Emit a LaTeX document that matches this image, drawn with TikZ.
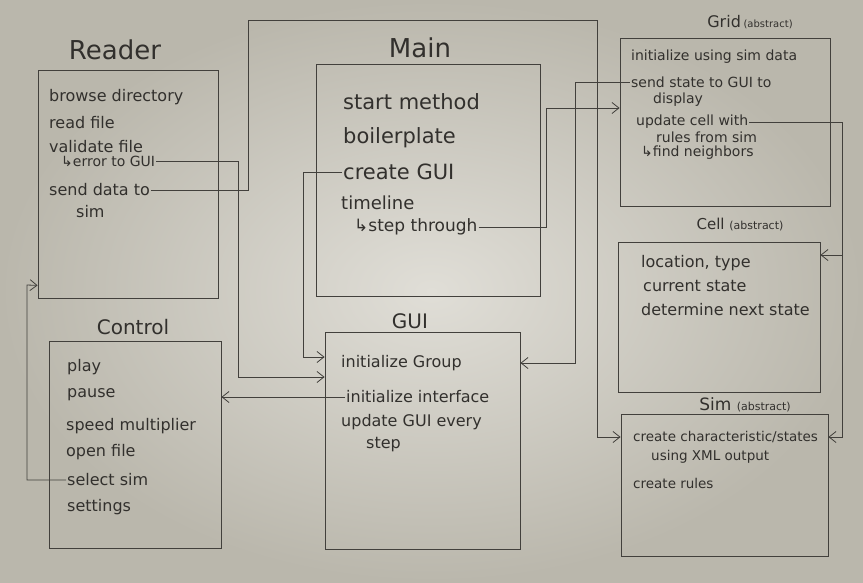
\documentclass[tikz,border=0pt]{standalone}
\usepackage{fontspec}
\setmainfont{DejaVu Sans}
\usepackage{tikz}
\usetikzlibrary{arrows.meta,calc}

\definecolor{ink}{RGB}{50,48,45}
\definecolor{pencil}{RGB}{66,64,60}
\definecolor{boardmid}{RGB}{224,222,215}
\definecolor{boardedge}{RGB}{186,183,172}

\begin{document}
\begin{tikzpicture}[x=1pt, y=-1pt, every node/.style={inner sep=1pt, text=ink}]
    \tikzset{
        blk/.style={draw=pencil, line width=0.8pt, inner sep=0pt},
        ttl/.style={font=\fontsize{#1}{#1}\selectfont},
        ln/.style={anchor=west, font=\fontsize{#1}{#1}\selectfont},
        link/.style={draw=pencil, line width=0.8pt, -{Straight Barb[length=7pt, width=11pt]}}
    }
    \shade[inner color=boardmid, outer color=boardedge] (0,0) rectangle (863,582);

    % boxes
    \node[blk, minimum width=180pt, minimum height=228pt] (reader) at (128,184) {};
    \node[blk, minimum width=224pt, minimum height=232pt] (main) at (428,180) {};
    \node[blk, minimum width=210pt, minimum height=168pt] (grid) at (725,122) {};
    \node[blk, minimum width=202pt, minimum height=150pt] (cell) at (719,317) {};
    \node[blk, minimum width=207pt, minimum height=142pt] (sim) at (724.5,485) {};
    \node[blk, minimum width=172pt, minimum height=207pt] (control) at (135,444.5) {};
    \node[blk, minimum width=195pt, minimum height=217pt] (gui) at (422.5,440.5) {};

    % titles
    \node[ttl=26] (readerT) at (115,50) {Reader};
    \node[ttl=26] (mainT) at (420,48) {Main};
    \node[ttl=16] (gridT) at (750,22) {Grid\,{\fontsize{10}{10}\selectfont(abstract)}};
    \node[ttl=15] (cellT) at (740,225) {Cell {\fontsize{11}{11}\selectfont(abstract)}};
    \node[ttl=17] (simT) at (745,405) {Sim {\fontsize{11}{11}\selectfont(abstract)}};
    \node[ttl=20] (controlT) at (133,327) {Control};
    \node[ttl=20] (guiT) at (410,321) {GUI};

    % Reader
    \node[ln=16] (rbrowse) at (48,97) {browse directory};
    \node[ln=16] (rread) at (48,123) {read file};
    \node[ln=16] (rvalid) at (48,147) {validate file};
    \node[ln=14] (rerr) at (60,161) {↳error to GUI};
    \node[ln=16] (rsend) at (48,190) {send data to};
    \node[ln=16] (rsim) at (75,212) {sim};

    % Main
    \node[ln=21] (mstart) at (342,102) {start method};
    \node[ln=21] (mboil) at (342,138) {boilerplate};
    \node[ln=21] (mgui) at (342,172) {create GUI};
    \node[ln=18] (mtime) at (340,203) {timeline};
    \node[ln=17] (mstep) at (353,227) {↳step through};

    % Grid
    \node[ln=14] (ginit) at (630,57) {initialize using sim data};
    \node[ln=14] (gsend) at (630,82) {send state to GUI to};
    \node[ln=14] (gdisp) at (652,100) {display};
    \node[ln=14] (gupd) at (635,122) {update cell with};
    \node[ln=14] (grules) at (655,137) {rules from sim};
    \node[ln=14] (gfind) at (640,153) {↳find neighbors};

    % Cell
    \node[ln=16] (cloc) at (640,263) {location, type};
    \node[ln=16] (ccur) at (642,286) {current state};
    \node[ln=16] (cnext) at (640,310) {determine next state};

    % Sim
    \node[ln=13.5] (sim1) at (632,437) {create characteristic/states};
    \node[ln=13.5] (sim2) at (650,457) {using XML output};
    \node[ln=13.5] (sim3) at (632,483) {create rules};

    % Control
    \node[ln=16] (cplay) at (66,367) {play};
    \node[ln=16] (cpause) at (66,395) {pause};
    \node[ln=16] (cspeed) at (65,426) {speed multiplier};
    \node[ln=16] (copen) at (65,452) {open file};
    \node[ln=16] (csel) at (66,480) {select sim};
    \node[ln=16] (cset) at (66,507) {settings};

    % GUI
    \node[ln=16] (ggroup) at (340,363) {initialize Group};
    \node[ln=16] (ginter) at (345,397) {initialize interface};
    \node[ln=16] (gupdate) at (340,422) {update GUI every};
    \node[ln=16] (gstep) at (365,445) {step};

    % connectors
    \draw[link] (rsend.east) -| (248,20) -- (597,20) |- (sim.west |- sim1);
    \draw[link] (rerr.east) -| (238,377) -- ($(gui.west |- ggroup)+(0,14)$);
    \draw[link] (mgui.west) -| (303,357) -- ($(gui.west |- ggroup)+(0,-6)$);
    \draw[link] (mstep.east) -| (546,108) -- ($(grid.west |- gdisp)+(0,8)$);
    \draw[link] (gsend.west) -| (575,363) -- (gui.east |- ggroup);
    \coordinate (split) at (842,255);
    \draw[link] (gupd.east) -| (split) -- (cell.east |- split);
    \draw[link] (split) |- (sim.east |- sim1);
    \draw[link] (ginter.west) -- (control.east |- ginter);
    \draw[link] (csel.west) -| (27,285) -- ($(reader.south west)+(0,-13)$);
\end{tikzpicture}
\end{document}
